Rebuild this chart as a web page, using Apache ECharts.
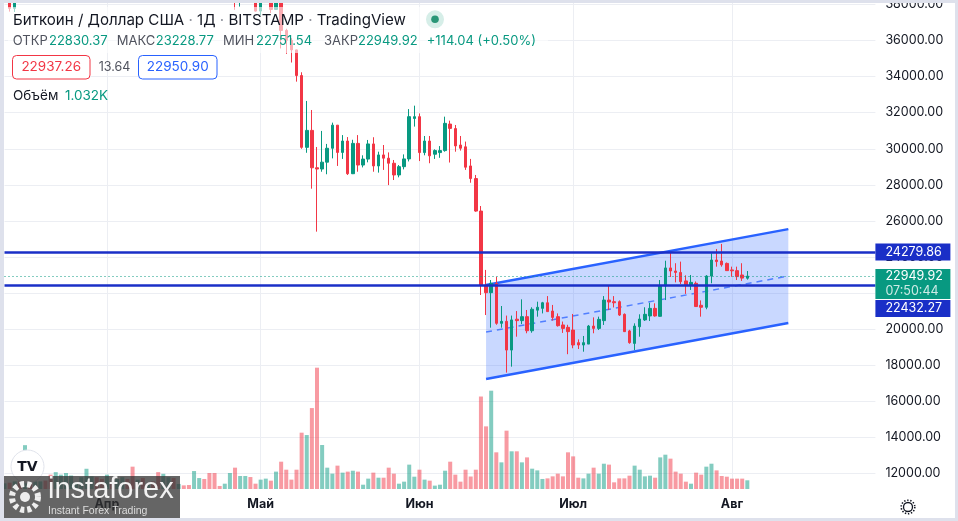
<!DOCTYPE html>
<html>
<head>
<meta charset="utf-8">
<script src="https://cdn.jsdelivr.net/npm/echarts@6.0.0/dist/echarts.min.js"></script>
<style>
  html, body { margin: 0; padding: 0; background: #dee1ec; }
  #chart { position: absolute; left: 4px; top: 3px; width: 951px; height: 515px; background: #fff; }
</style>
</head>
<body>
<div id="chart"></div>
<script>
// daily bars, BTC/USD Bitstamp, 12 Mar 2022 .. 4 Aug 2022, then empty days to the right
const firstDay = [2022, 2, 12];
const dayCount = 171;
const monthNames = ['Янв', 'Фев', 'Мар', 'Апр', 'Май', 'Июн', 'Июл', 'Авг', 'Сен', 'Окт', 'Ноя', 'Дек'];

// [open, close, low, high]
const candles = [
  // Mar 12..31
  [38790, 38830, 38260, 39340], [38830, 37780, 37600, 39300], [37780, 39670, 37580, 39900],
  [39670, 39280, 38120, 39890], [39280, 41120, 38860, 41700], [41120, 40930, 40530, 41450],
  [40930, 41780, 40150, 42300], [41780, 42190, 41480, 42380], [42190, 41260, 40940, 42270],
  [41260, 41000, 40500, 41560], [41000, 42370, 40900, 43360], [42370, 42890, 41750, 42950],
  [42890, 43960, 42570, 44220], [43960, 44330, 43640, 45100], [44330, 44510, 44100, 44770],
  [44510, 46820, 44420, 46910], [46820, 47130, 46650, 48190], [47130, 47450, 46560, 48080],
  [47450, 47060, 46500, 47700], [47060, 45530, 45220, 47600],
  // Apr
  [45530, 46300, 44250, 46680], [46300, 45810, 45700, 47210], [45810, 46410, 45530, 47440],
  [46410, 46610, 45150, 46870], [46610, 45520, 45380, 47180], [45520, 43190, 43130, 45520],
  [43190, 43450, 42750, 43900], [43450, 42270, 42140, 43970], [42270, 42760, 42140, 42800],
  [42760, 42160, 41900, 43430], [42160, 39530, 39200, 42420], [39530, 40080, 39250, 40700],
  [40080, 41150, 39560, 41550], [41150, 39940, 39570, 41470], [39940, 40550, 39770, 40850],
  [40550, 40400, 40020, 40720], [40400, 39710, 39570, 40600], [39710, 40810, 38560, 41100],
  [40810, 41500, 40560, 41760], [41500, 41370, 40850, 42200], [41370, 40480, 39760, 42980],
  [40480, 39710, 39170, 40800], [39710, 39460, 39310, 39970], [39460, 39470, 39030, 39930],
  [39450, 40430, 38200, 40620], [40430, 38120, 37700, 40780], [38120, 39240, 37880, 39450],
  [39240, 39740, 38850, 40370], [39740, 38600, 38200, 39920], [38600, 37630, 37600, 38780],
  // May
  [37630, 38470, 37390, 38660], [38470, 38530, 38050, 39150], [38530, 37720, 37520, 38640],
  [37720, 39690, 37700, 40020], [39690, 36560, 35560, 39850], [36560, 36010, 35260, 36650],
  [36010, 35480, 34780, 36130], [35480, 34060, 33720, 35500], [34060, 30080, 30000, 34240],
  [30080, 31020, 29780, 32650], [31020, 28950, 27790, 32150], [28950, 28880, 25410, 30100],
  [28880, 29260, 28730, 30990], [29260, 30030, 28590, 30270], [30030, 31310, 29470, 31450],
  [31310, 29800, 29050, 31310], [29800, 30430, 29440, 30760], [30430, 28620, 28550, 30650],
  [28620, 30300, 28600, 30500], [30300, 29100, 28730, 30760], [29100, 29430, 28970, 29640],
  [29430, 30270, 29250, 30490], [30270, 29050, 28730, 30640], [29050, 29660, 28680, 29840],
  [29660, 29480, 28830, 30210], [29480, 29200, 27990, 29800], [29200, 28550, 28270, 29380],
  [28550, 29010, 28420, 29100], [29010, 29440, 28860, 29690], [29440, 31780, 29300, 32200],
  [31680, 31780, 31230, 32390],
  // Jun
  [31780, 29790, 29320, 31960], [29790, 30430, 29640, 30710], [30430, 29610, 29200, 30710],
  [29700, 29900, 29440, 29970], [29790, 29900, 29500, 30150], [29900, 31410, 29840, 31780],
  [31370, 31130, 29240, 31560], [31120, 30160, 29840, 31320], [30210, 30030, 29900, 30710],
  [30110, 28980, 28830, 30400], [29050, 28350, 28120, 29440], [28350, 26550, 26510, 28550],
  [26550, 22450, 21900, 26830], [22450, 22030, 20790, 23290], [22030, 22550, 20090, 22730],
  [22550, 20330, 20250, 22910], [20330, 20440, 20090, 21290], [20440, 18850, 17600, 20760],
  [18850, 20520, 17930, 20760], [20560, 20480, 19590, 21010], [20480, 20700, 20290, 21660],
  [20700, 19920, 19780, 21070], [19920, 21110, 19810, 21220], [21060, 21220, 20700, 21530],
  [21160, 21470, 20880, 21520], [21470, 20980, 20960, 21840], [21010, 20660, 20480, 21350],
  [20700, 20200, 20150, 20880], [20240, 20050, 19800, 20430], [20110, 19870, 18620, 20250],
  // Jul
  [19960, 19130, 18950, 20850], [19260, 19130, 18910, 19440], [19130, 19260, 18760, 19630],
  [19180, 20180, 19180, 20240], [20180, 20050, 19780, 20660], [20050, 20550, 19960, 20700],
  [20480, 21620, 20240, 21840], [21620, 21510, 21070, 22400], [21530, 21470, 21210, 21840],
  [21530, 20790, 20740, 21600], [20830, 19870, 19870, 20880], [19910, 19260, 19200, 19970],
  [19220, 20180, 18850, 20330], [20140, 20570, 19590, 20830], [20520, 20830, 20460, 21220],
  [20740, 21160, 20460, 21470], [21160, 20740, 20700, 21440], [20720, 22400, 20700, 22730],
  [22400, 23400, 21620, 23800], [23400, 23230, 22900, 24280], [23230, 23150, 22600, 23660],
  [23150, 22640, 22510, 23750], [22680, 22450, 21960, 22990], [22450, 22600, 22180, 23010],
  [22550, 21260, 21260, 22650], [21330, 21220, 20700, 21600], [21220, 22950, 21110, 23000],
  [22950, 23840, 22550, 24210], [23840, 23750, 23470, 24450], [23780, 23570, 23470, 24730],
  [23650, 23250, 23250, 23700],
  // Aug
  [23290, 23240, 22910, 23470], [23250, 22920, 22730, 23470], [23010, 22835.88, 22680, 23660],
  [22830.37, 22949.92, 22751.54, 23228.77]
];

// volume, thousands of BTC
const volume = [
  0.67, 0.75, 0.9, 0.9, 5.2, 0.9, 0.9, 0.9, 1.0, 1.7, 2.0, 1.7, 1.9, 1.6, 0.6, 1.4, 2.4, 1.5, 1.4, 1.2,
  1.7, 0.7, 1.2, 1.4, 1.2, 2.65, 1.1, 1.3, 0.5, 0.9, 2.0, 1.8, 1.4, 1.3, 0.6, 0.43, 0.47, 2.13, 1.3, 1.19,
  1.9, 1.9, 0.36, 0.63, 1.9, 2.53, 1.54, 1.54, 1.42, 0.63,
  1.11, 1.23, 0.99, 2.06, 3.24, 2.29, 1.11, 2.29, 6.68, 6.4, 9.6, 14.39, 5.22, 2.53, 1.82, 2.77, 1.94,
  2.06, 2.17, 2.06, 0.51, 1.23, 1.94, 1.34, 1.34, 2.53, 1.82, 0.63, 0.87, 2.89, 1.46,
  2.29, 1.11, 0.99, 0.4, 0.51, 2.17, 3.24, 1.7, 0.87, 2.29, 1.48, 2.29, 10.97, 7.43, 11.66, 4.35, 3.16,
  6.92, 4.47, 4.47, 3.16, 3.75, 2.41, 2.21, 1.19, 1.26, 1.5, 1.82, 1.5, 4.35,
  3.87, 1.34, 1.26, 1.82, 2.53, 1.82, 3.0, 2.89, 0.79, 1.26, 1.26, 1.58, 2.77, 2.29, 1.5, 1.58, 1.34,
  3.75, 4.07, 3.6, 2.06, 1.82, 0.87, 0.63, 1.94, 1.7, 2.65, 3.0, 2.21, 1.54, 1.46,
  1.23, 1.23, 1.23, 1.032
];

// drawings
const levels = [24279.86, 22432.27];
const lastPrice = 22949.92;
const countdown = '07:50:44';
const channelDates = ['2022-06-14', '2022-08-12'];
const channelTop = [22450, 25550];
const channelBottom = [17250, 20350];

// legend row: [label, value]
const ohlcLegend = [['ОТКР', '22830.37'], ['МАКС', '23228.77'], ['МИН', '22751.54'], ['ЗАКР', '22949.92']];
const changeText = '+114.04 (+0.50%)';

const UP = '#089981', DOWN = '#f23645';
const LEVEL = '#1a2fc7', CHANNEL = '#2962ff';
const GRID = '#eceef3';

const dates = [];
for (let i = 0; i < dayCount; i++) {
  const d = new Date(Date.UTC(firstDay[0], firstDay[1], firstDay[2] + i));
  dates.push(d.toISOString().slice(0, 10));
}
const isMonthStart = (idx, val) => val.slice(8) === '01';

const volData = volume.map((v, i) => ({
  value: v,
  itemStyle: { color: candles[i][1] >= candles[i][0] ? 'rgba(8,153,129,0.5)' : 'rgba(242,54,69,0.5)' }
}));

const chart = echarts.init(document.getElementById('chart'));

const sideLabel = {
  position: 'end', distance: 0, color: '#fff', fontSize: 12.5, fontFamily: 'Inter',
  padding: [2, 4, 2, 10], width: 61, lineHeight: 13
};

// legend text pieces, x positions
const legendX = [[8.7, 45], [112.7, 151.7], [219, 252], [320, 354]];
const legendTexts = [];
ohlcLegend.forEach((p, i) => {
  legendTexts.push({ type: 'text', z: 51, x: legendX[i][0], y: 38, style: { text: p[0], fill: '#50535e', fontSize: 13, fontFamily: 'Inter', verticalAlign: 'middle' } });
  legendTexts.push({ type: 'text', z: 51, x: legendX[i][1], y: 38, style: { text: p[1], fill: UP, fontSize: 13, fontFamily: 'Inter', verticalAlign: 'middle' } });
});
legendTexts.push({ type: 'text', z: 51, x: 422.7, y: 38, style: { text: changeText, fill: UP, fontSize: 13, fontFamily: 'Inter', verticalAlign: 'middle' } });

const option = {
  animation: false,
  textStyle: { fontFamily: 'Inter' },
  grid: [
    { left: 0.5, right: 79.6, top: 1.4, height: 505.4, outerBoundsMode: 'none' },
    { left: 0.5, right: 79.6, top: 0, bottom: 29, outerBoundsMode: 'none' }
  ],
  xAxis: [
    { type: 'category', gridIndex: 0, data: dates, boundaryGap: false, show: false },
    {
      type: 'category', gridIndex: 1, data: dates, boundaryGap: false,
      axisLine: { show: false }, axisTick: { show: false },
      axisLabel: {
        interval: isMonthStart, margin: 9, color: '#131722', fontWeight: 'bold', fontSize: 12.5,
        formatter: v => monthNames[+v.slice(5, 7) - 1]
      },
      splitLine: { show: true, interval: isMonthStart, lineStyle: { color: GRID } }
    }
  ],
  yAxis: [
    {
      type: 'value', gridIndex: 0, position: 'right', min: 10000, max: 38000, interval: 2000,
      axisLine: { show: false }, axisTick: { show: false },
      axisLabel: { color: '#131722', fontSize: 12.5, margin: 10, showMinLabel: false, formatter: v => v.toFixed(2) },
      splitLine: { lineStyle: { color: GRID }, showMinLine: false }
    },
    { type: 'value', gridIndex: 1, show: false, min: 0, max: 57.65 }
  ],
  series: [
    {
      type: 'bar', xAxisIndex: 1, yAxisIndex: 1, data: volData, barWidth: 4, z: 1,
      markLine: {
        symbol: 'none', silent: true,
        data: [{ yAxis: volume[volume.length - 1], lineStyle: { opacity: 0 } }],
        label: Object.assign({}, sideLabel, { width: 45, backgroundColor: UP, formatter: '1.032K' })
      }
    },
    {
      type: 'custom', xAxisIndex: 0, yAxisIndex: 0, z: 1, silent: true,
      data: [[dates.indexOf(channelDates[0]), channelBottom[0]]],
      renderItem: function (params, api) {
        const i0 = dates.indexOf(channelDates[0]), i1 = dates.indexOf(channelDates[1]);
        const t0 = api.coord([i0, channelTop[0]]), t1 = api.coord([i1, channelTop[1]]);
        const b0 = api.coord([i0, channelBottom[0]]), b1 = api.coord([i1, channelBottom[1]]);
        const m0 = api.coord([i0, (channelTop[0] + channelBottom[0]) / 2]);
        const m1 = api.coord([i1, (channelTop[1] + channelBottom[1]) / 2]);
        const seg = (a, b, style) => ({ type: 'line', shape: { x1: a[0], y1: a[1], x2: b[0], y2: b[1] }, style });
        return {
          type: 'group',
          children: [
            { type: 'polygon', shape: { points: [t0, t1, b1, b0] }, style: { fill: 'rgba(41,98,255,0.25)' } },
            seg(m0, m1, { stroke: CHANNEL, lineWidth: 1.5, lineDash: [6, 5], opacity: 0.75 }),
            seg(t0, t1, { stroke: CHANNEL, lineWidth: 2.5 }),
            seg(b0, b1, { stroke: CHANNEL, lineWidth: 2.5 })
          ]
        };
      }
    },
    {
      type: 'candlestick', xAxisIndex: 0, yAxisIndex: 0, data: candles, barWidth: 3, z: 2,
      itemStyle: { color: UP, color0: DOWN, borderColor: UP, borderColor0: DOWN, borderWidth: 1 },
      markLine: {
        symbol: 'none', silent: true,
        data: [
          {
            yAxis: lastPrice, lineStyle: { color: UP, width: 1, type: [1, 3] },
            label: Object.assign({}, sideLabel, {
              backgroundColor: UP, padding: [0, 4, 0, 10], offset: [0, 8],
              formatter: '{a|' + lastPrice.toFixed(2) + '}\n{b|' + countdown + '}',
              rich: {
                a: { color: '#fff', fontSize: 12.5, lineHeight: 15 },
                b: { color: 'rgba(255,255,255,0.8)', fontSize: 12.5, lineHeight: 15 }
              }
            })
          },
          {
            yAxis: levels[0], lineStyle: { color: LEVEL, width: 2.5, type: 'solid' },
            label: Object.assign({}, sideLabel, { backgroundColor: LEVEL, formatter: levels[0].toFixed(2) })
          },
          {
            yAxis: levels[1], lineStyle: { color: LEVEL, width: 2.5, type: 'solid' },
            label: Object.assign({}, sideLabel, { backgroundColor: LEVEL, offset: [0, 23], formatter: levels[1].toFixed(2) })
          }
        ]
      }
    }
  ],
  graphic: [
    // legend backdrop fades the candles under the text
    { type: 'rect', z: 50, shape: { x: 4, y: 4, width: 446, height: 25 }, style: { fill: 'rgba(255,255,255,0.6)' } },
    { type: 'rect', z: 50, shape: { x: 4, y: 29, width: 540, height: 21 }, style: { fill: 'rgba(255,255,255,0.6)' } },
    {
      type: 'text', z: 51, x: 9, y: 17,
      style: {
        text: '{m|Биткоин / Доллар США}{s| · }{m|1Д}{s| · }{m|BITSTAMP}{s| · }{m|TradingView}',
        verticalAlign: 'middle',
        rich: {
          m: { fill: '#131722', fontSize: 15.1, fontFamily: 'Inter' },
          s: { fill: '#9598a1', fontSize: 15.1, fontFamily: 'Inter' }
        }
      }
    },
    { type: 'circle', z: 51, shape: { cx: 431, cy: 16.3, r: 9 }, style: { fill: '#d6eee8' } },
    { type: 'circle', z: 52, shape: { cx: 431, cy: 16.3, r: 3.8 }, style: { fill: '#2a9677' } }
  ].concat(legendTexts, [
    { type: 'rect', z: 51, shape: { x: 8.5, y: 52.5, width: 77.5, height: 23.5, r: 4 }, style: { fill: '#fff', stroke: DOWN, lineWidth: 1 } },
    { type: 'text', z: 52, x: 47.2, y: 64.3, style: { text: '22937.26', fill: DOWN, fontSize: 13.5, fontFamily: 'Inter', align: 'center', verticalAlign: 'middle' } },
    { type: 'text', z: 52, x: 110.5, y: 64.3, style: { text: '13.64', fill: '#50535e', fontSize: 12.5, fontFamily: 'Inter', align: 'center', verticalAlign: 'middle' } },
    { type: 'rect', z: 51, shape: { x: 134.5, y: 52.5, width: 78.5, height: 23.5, r: 4 }, style: { fill: '#fff', stroke: CHANNEL, lineWidth: 1 } },
    { type: 'text', z: 52, x: 173.7, y: 64.3, style: { text: '22950.90', fill: CHANNEL, fontSize: 13.5, fontFamily: 'Inter', align: 'center', verticalAlign: 'middle' } },
    {
      type: 'text', z: 51, x: 9, y: 93,
      style: {
        text: '{k|Объём}  {v|1.032K}', verticalAlign: 'middle',
        rich: { k: { fill: '#131722', fontSize: 13.5, fontFamily: 'Inter' }, v: { fill: UP, fontSize: 13.5, fontFamily: 'Inter' } }
      }
    },
    // TradingView badge
    { type: 'circle', z: 60, shape: { cx: 23.5, cy: 463.5, r: 16.5 }, style: { fill: '#fff', stroke: '#e0e3eb', lineWidth: 1 } },
    { type: 'text', z: 61, x: 23.5, y: 464, style: { text: 'TV', fill: '#131722', fontSize: 14, fontWeight: 'bold', fontFamily: 'DejaVu Sans', align: 'center', verticalAlign: 'middle' } },
    // instaforex watermark
    { type: 'rect', z: 70, shape: { x: 0, y: 473, width: 176, height: 42 }, style: { fill: 'rgba(50,50,50,0.75)' } },
    { type: 'circle', z: 71, shape: { cx: 21, cy: 494, r: 13 }, style: { fill: 'none', stroke: '#eeeeee', lineWidth: 6, lineDash: [4, 3] } },
    { type: 'circle', z: 71, shape: { cx: 21, cy: 494, r: 5 }, style: { fill: '#eeeeee' } },
    { type: 'text', z: 71, x: 44, y: 487, style: { text: 'instaforex', fill: '#f2f2f2', fontSize: 29, fontFamily: 'Liberation Sans', verticalAlign: 'middle' } },
    { type: 'text', z: 71, x: 44, y: 508, style: { text: 'Instant Forex Trading', fill: '#dddddd', fontSize: 10.5, fontFamily: 'Liberation Sans', verticalAlign: 'middle' } },
    // settings icon under the price scale
    { type: 'circle', z: 60, shape: { cx: 904, cy: 504, r: 4.5 }, style: { fill: 'none', stroke: '#131722', lineWidth: 1.3 } },
    { type: 'circle', z: 60, shape: { cx: 904, cy: 504, r: 6.8 }, style: { fill: 'none', stroke: '#131722', lineWidth: 1.6, lineDash: [1.4, 1.7] } }
  ])
};

chart.setOption(option);
</script>
</body>
</html>
